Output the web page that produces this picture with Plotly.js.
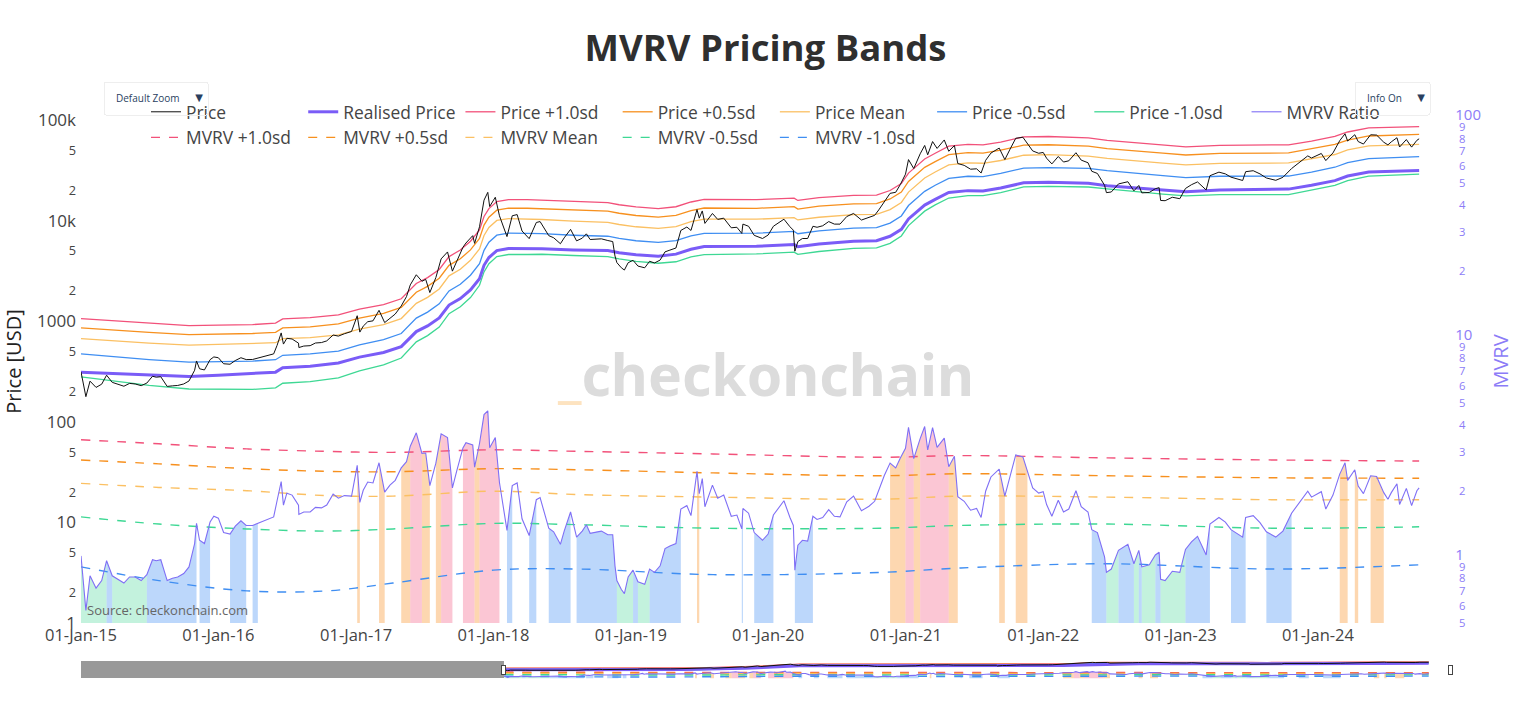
<!DOCTYPE html>
<html>
<head>
<meta charset="utf-8">
<script src="https://cdn.plot.ly/plotly-3.0.1.min.js"></script>
<style>html,body{margin:0;padding:0;background:#fff}#chart{width:1520px;height:726px}</style>
</head>
<body>
<div id="chart"></div>
<script>
// ---- Price / MVRV samples ----
const priceDates = [
 '2015-01-01','2015-01-14','2015-01-25','2015-02-10','2015-02-25','2015-03-10','2015-03-25','2015-04-10','2015-04-25','2015-05-10','2015-05-25','2015-06-10','2015-06-25','2015-07-10','2015-07-20','2015-08-01','2015-08-18','2015-09-01','2015-09-15','2015-10-01','2015-10-15','2015-10-30','2015-11-04','2015-11-12','2015-11-25','2015-12-10','2015-12-20',
 '2016-01-01','2016-01-15','2016-02-01','2016-02-15','2016-03-01','2016-03-15','2016-04-01','2016-04-15','2016-05-01','2016-05-15','2016-05-27','2016-06-05','2016-06-16','2016-06-22','2016-07-01','2016-07-15','2016-08-01','2016-08-02','2016-08-15','2016-09-01','2016-09-15','2016-10-01','2016-10-15','2016-11-01','2016-11-15','2016-12-01','2016-12-20',
 '2017-01-04','2017-01-11','2017-01-20','2017-02-01','2017-02-15','2017-03-03','2017-03-18','2017-04-01','2017-04-15','2017-05-01','2017-05-15','2017-05-25','2017-06-10','2017-06-25','2017-07-05','2017-07-16','2017-08-01','2017-08-15','2017-09-01','2017-09-14','2017-09-25','2017-10-12','2017-10-20','2017-11-07','2017-11-12','2017-11-25','2017-12-07','2017-12-17','2017-12-22',
 '2018-01-06','2018-01-17','2018-02-06','2018-02-20','2018-03-05','2018-03-18','2018-04-06','2018-04-25','2018-05-05','2018-05-28','2018-06-10','2018-06-28','2018-07-08','2018-07-25','2018-08-10','2018-08-25','2018-09-05','2018-09-15','2018-10-01','2018-10-15','2018-11-01','2018-11-14','2018-11-20','2018-11-25','2018-12-07','2018-12-15','2018-12-25',
 '2019-01-07','2019-01-20','2019-02-07','2019-02-20','2019-03-05','2019-03-20','2019-04-02','2019-04-15','2019-05-01','2019-05-14','2019-05-30','2019-06-10','2019-06-26','2019-07-02','2019-07-10','2019-07-17','2019-08-06','2019-08-20','2019-09-05','2019-09-25','2019-10-10','2019-10-23','2019-10-26','2019-11-10','2019-11-25','2019-12-17',
 '2020-01-01','2020-01-15','2020-02-12','2020-02-28','2020-03-08','2020-03-12','2020-03-20','2020-04-01','2020-04-15','2020-04-29','2020-05-10','2020-05-25','2020-06-10','2020-06-25','2020-07-10','2020-07-28','2020-08-15','2020-09-05','2020-09-25','2020-10-10','2020-10-21','2020-11-05','2020-11-20','2020-12-05','2020-12-17','2020-12-31',
 '2021-01-08','2021-01-22','2021-02-08','2021-02-20','2021-02-28','2021-03-13','2021-03-25','2021-04-13','2021-04-25','2021-05-10','2021-05-19','2021-06-05','2021-06-22','2021-07-08','2021-07-20','2021-08-01','2021-08-15','2021-09-06','2021-09-21','2021-10-05','2021-10-20','2021-11-08','2021-11-20','2021-12-04','2021-12-20',
 '2022-01-01','2022-01-10','2022-01-24','2022-02-10','2022-02-24','2022-03-10','2022-03-29','2022-04-12','2022-04-30','2022-05-10','2022-05-25','2022-06-13','2022-06-18','2022-07-01','2022-07-20','2022-08-14','2022-08-30','2022-09-12','2022-09-20','2022-10-10','2022-10-26','2022-11-05','2022-11-09','2022-11-21','2022-12-10','2022-12-30',
 '2023-01-14','2023-01-30','2023-02-15','2023-03-10','2023-03-20','2023-04-13','2023-04-30','2023-05-15','2023-06-15','2023-06-23','2023-07-13','2023-07-31','2023-08-17','2023-09-11','2023-09-30','2023-10-23','2023-11-10','2023-12-05','2023-12-15',
 '2024-01-10','2024-01-22','2024-02-10','2024-02-28','2024-03-13','2024-03-20','2024-04-08','2024-04-17','2024-05-01','2024-05-20','2024-06-05','2024-06-24','2024-07-05','2024-07-14','2024-07-29','2024-08-05','2024-08-23','2024-09-06','2024-09-20','2024-09-26'
];
const price = [
 314,178,254,220,237,291,247,236,226,241,238,229,243,284,278,281,225,228,230,238,255,326,403,337,328,415,442,
 434,378,374,407,434,416,417,430,448,457,474,575,766,593,677,666,606,548,567,572,608,614,638,730,712,752,792,
 1135,780,895,990,1010,1285,970,1080,1180,1420,1760,2300,2900,2500,2610,1930,2720,4170,4890,3150,3910,5440,6000,7100,5950,8700,16000,19140,13830,
 17100,11200,6950,11200,11500,7900,6630,9600,9800,7100,6770,5900,6750,8200,6300,6700,7400,6500,6600,6600,6350,6200,4460,3830,3400,3230,3820,
 4040,3540,3400,3950,3800,4060,4900,5100,5350,8000,8650,8000,12900,10600,12500,9400,11800,10300,10600,8500,8600,7470,9250,8800,7150,6650,
 7200,8800,10350,8700,8050,4970,6200,6650,6650,8800,8600,8900,9800,9250,9240,11000,11800,10150,10700,11300,12800,15600,18700,19150,22800,29000,
 40500,33000,46200,56000,45200,61200,52300,63500,49000,55900,37000,35500,32500,32800,29800,39800,47000,52700,40500,51500,66000,67600,59000,49400,46800,
 47700,41800,36700,43500,38300,39400,47400,40000,37700,31000,29500,22500,19000,19300,23200,24400,19800,22400,18900,19100,20800,21300,15900,15800,17100,16550,
 20900,22800,24300,20200,28000,30400,29200,27100,25100,30700,31400,29200,26600,25200,27000,33000,37300,44100,42000,
 46600,39600,47200,62500,73100,61900,71600,61200,57800,71500,71000,60300,56700,60800,66800,54000,64100,53900,63000,65200
];
const mvrvRatio = [
 1.01,0.57,0.82,0.72,0.78,0.96,0.82,0.79,0.76,0.81,0.81,0.78,0.83,0.97,0.96,0.97,0.78,0.80,0.81,0.84,0.90,1.15,1.42,1.19,1.15,1.44,1.53,
 1.50,1.29,1.27,1.38,1.46,1.39,1.39,1.42,1.46,1.48,1.52,1.80,2.20,1.72,1.95,1.91,1.72,1.56,1.60,1.60,1.68,1.67,1.72,1.93,1.85,1.90,1.89,
 2.61,1.77,2.01,2.19,2.17,2.68,1.97,2.12,2.23,2.54,2.71,3.19,3.67,2.96,2.97,2.11,2.67,3.63,3.49,2.06,2.44,3.13,3.31,3.23,2.56,3.28,4.44,4.62,3.14,
 3.49,2.18,1.32,2.11,2.17,1.49,1.25,1.82,1.86,1.35,1.30,1.14,1.31,1.60,1.23,1.31,1.40,1.28,1.30,1.31,1.26,1.26,0.91,0.78,0.71,0.68,0.81,
 0.87,0.77,0.75,0.88,0.85,0.91,1.09,1.12,1.15,1.65,1.71,1.54,2.45,1.94,2.27,1.69,2.12,1.85,1.91,1.53,1.55,1.34,1.66,1.58,1.29,1.19,
 1.27,1.55,1.80,1.51,1.39,0.87,1.13,1.19,1.18,1.53,1.48,1.51,1.64,1.53,1.52,1.78,1.89,1.62,1.70,1.79,2.01,2.35,2.67,2.54,2.81,3.12,
 3.89,2.80,3.45,3.92,3.07,3.87,3.15,3.47,2.57,2.87,1.88,1.79,1.63,1.66,1.51,1.99,2.31,2.51,1.89,2.35,2.91,2.85,2.47,2.06,1.95,
 1.98,1.73,1.53,1.81,1.60,1.65,2.00,1.69,1.60,1.33,1.29,1.00,0.85,0.88,1.07,1.14,0.93,1.07,0.90,0.92,1.02,1.05,0.79,0.78,0.86,0.85,
 1.08,1.17,1.24,1.02,1.41,1.51,1.44,1.33,1.23,1.51,1.54,1.43,1.30,1.23,1.31,1.58,1.75,1.99,1.87,
 1.98,1.65,1.91,2.38,2.68,2.23,2.49,2.10,1.94,2.34,2.32,1.96,1.83,1.96,2.15,1.73,2.05,1.71,2.00,2.06
];
// MVRV zone per sample: r > +1sd, o > +0.5sd, n inside, b < -0.5sd, g < -1sd
const mvrvZone = [
 'gggggbggggggbbbbbbbbbbnbbnn',
 'nnbbbnbnnnnnnnnnnnnnnnnnnnn',
 'onnnnonnnoorroonorrnnrrrorrrr',
 'rnbnnnbnnbbbbnbbbbbbbbbgggg',
 'bggbbbbbbnnnonnnnnnnnbnnbb',
 'bnnnnbbbbnnnnnnnnnnnnnooor',
 'rorrrrrroonnnnnnnonnoonnn',
 'nnnnnnnnnbbbggbbgbggbbgggg',
 'bbbbnnnbbnnnbbbnnnn',
 'nnnoononnoonnnnnnnnn'
].join('');

// ---- Realised price and price bands (knots) ----
const rpDates = ['2015-01-01','2015-04-01','2015-07-01','2015-10-15','2016-01-01','2016-04-01','2016-06-01','2016-06-20','2016-09-01','2016-11-15',
 '2017-01-10','2017-03-15','2017-05-01','2017-06-10','2017-07-10','2017-08-10','2017-09-05','2017-10-05','2017-11-01','2017-11-25','2017-12-07','2017-12-20',
 '2018-01-10','2018-02-10','2018-04-01','2018-05-10','2018-08-01','2018-11-01','2018-12-01','2019-01-15','2019-03-15','2019-05-01','2019-06-10','2019-07-15',
 '2019-12-01','2020-03-10','2020-03-20','2020-05-15','2020-08-15','2020-10-15','2020-11-20','2020-12-20','2021-01-08','2021-02-20','2021-03-20','2021-04-25',
 '2021-06-15','2021-07-25','2021-09-10','2021-11-10','2022-01-15','2022-05-01','2022-06-20','2022-08-15','2022-11-15','2023-01-15','2023-04-15','2023-10-15',
 '2023-12-15','2024-02-15','2024-03-20','2024-05-15','2024-09-26'];
const realisedPrice = [311,300,292,282,290,300,312,345,358,385,440,490,560,790,900,1080,1450,1680,2050,2650,3600,4300,
 5050,5300,5300,5270,5120,5040,4800,4580,4440,4650,5200,5550,5560,5800,5500,5880,6250,6320,7000,8200,10400,14300,16300,19100,
 19900,19700,21100,23800,24100,23500,22300,21400,20200,19400,20200,20600,22500,25000,27800,30500,31600];
const priceP10 = [1060,1005,961,905,916,927,958,1056,1088,1159,1320,1465,1674,2378,2718,3272,4394,5107,6253,8109,11016,13201,
 15504,16218,16165,16021,15462,15120,14400,13694,13187,13764,15340,16317,16180,16762,15895,16934,17875,17949,19950,23370,29744,41041,46781,55008,
 57511,56736,60557,68068,68685,66505,62886,60134,56560,54126,56156,56856,61875,68750,76172,83570,86268];
const priceP05 = [858,813,777,736,742,756,777,859,881,943,1074,1196,1372,1943,2223,2678,3596,4183,5125,6652,9036,10836,
 12726,13303,13303,13175,12749,12449,11856,11267,10834,11300,12584,13376,13288,13804,13035,13936,14688,14789,16450,19270,24544,33891,38631,45458,
 47561,46886,50218,56406,56876,55225,52182,49862,46864,45008,46662,47174,51525,57250,63384,69540,72048];
const priceMean = [672,636,607,578,586,597,612,673,687,732,836,926,1064,1509,1728,2095,2828,3293,4039,5247,7128,8557,
 10050,10494,10388,10277,9882,9626,9168,8702,8392,8742,9776,10379,10342,10730,10175,10819,11500,11566,12880,15170,19240,26598,30481,35908,
 37611,37233,39668,44744,45308,43945,41701,39804,37370,35890,37168,37492,40950,45500,50596,55510,57512];
const priceM05 = [473,441,415,392,394,402,415,459,473,504,581,657,756,1074,1233,1490,2001,2335,2870,3737,5076,6106,
 7171,7526,7473,7431,7168,7006,6672,6320,6083,6324,7072,7493,7506,7830,7425,7938,8438,8532,9450,11152,14144,19591,22494,26358,
 27661,27383,29540,33320,33740,33135,31443,29960,28078,26772,27674,27810,30375,34000,37808,41480,43292];
const priceM10 = [280,255,231,212,212,210,218,242,251,273,321,368,431,624,720,875,1189,1394,1722,2279,3096,3741,
 4394,4611,4611,4638,4506,4385,4176,3939,3774,3906,4368,4607,4670,4872,4620,4939,5313,5372,5950,7052,8944,12441,14344,16808,
 17711,17730,18990,21658,21931,21620,20739,19688,18382,17654,18180,18128,20025,22500,25020,27755,29072];

// ---- MVRV bands ----
const bandDates = ['2015-01-01','2015-07-27','2016-03-17','2016-10-16','2017-04-09','2018-01-01','2018-08-18','2019-08-08','2020-10-27','2021-05-27','2022-06-21','2023-09-05','2024-09-26'];
const mvrvP10 = [3.41,3.27,3.10,3.02,2.99,3.07,3.02,2.94,2.84,2.89,2.82,2.76,2.73];
const mvrvP05 = [2.76,2.65,2.52,2.45,2.44,2.52,2.49,2.41,2.34,2.39,2.34,2.29,2.28];
const mvrvMean = [2.16,2.07,2.00,1.90,1.89,1.99,1.92,1.87,1.83,1.89,1.87,1.82,1.82];
const mvrvM05 = [1.52,1.41,1.34,1.31,1.34,1.42,1.40,1.35,1.35,1.39,1.41,1.35,1.37];
const mvrvM10 = [0.90,0.78,0.70,0.70,0.76,0.87,0.88,0.83,0.85,0.89,0.93,0.88,0.92];

// ---- styling ----
const C = {p10:'#f2517a', p05:'#f7901e', mean:'#fbc063', m05:'#3f8ef2', m10:'#3ed894', rp:'#7a5cf7', mvrv:'#7f6ff5', axis2:'#8c7cf7'};
const zoneFill = {r:'rgba(247,129,160,0.45)', o:'rgba(250,167,80,0.45)', b:'rgba(96,160,245,0.42)', g:'rgba(88,220,160,0.36)'};

const traces = [];
// zone fills under the MVRV ratio: one filled trace per contiguous run of the same zone
(function () {
  let i = 0;
  const n = priceDates.length;
  while (i < n) {
    const z = mvrvZone[i];
    let k = i;
    while (k + 1 < n && mvrvZone[k + 1] === z) k++;
    if (z !== 'n') {
      const end = Math.min(k + 2, n);
      traces.push({
        x: priceDates.slice(i, end), y: mvrvRatio.slice(i, end),
        yaxis: 'y2', type: 'scatter', mode: 'lines', line: {width: 0, color: zoneFill[z]},
        fill: 'tozeroy', fillcolor: zoneFill[z], showlegend: false, hoverinfo: 'skip'
      });
    }
    i = k + 1;
  }
})();
function line(name, x, y, color, width, axis, rank, dash) {
  return {x: x, y: y, name: name, type: 'scatter', mode: 'lines', yaxis: axis,
    line: {color: color, width: width, dash: dash || 'solid', shape: dash ? 'spline' : 'linear'}, legendrank: rank};
}
traces.push(line('Price +1.0sd', rpDates, priceP10, C.p10, 1.3, 'y', 3));
traces.push(line('Price +0.5sd', rpDates, priceP05, C.p05, 1.3, 'y', 4));
traces.push(line('Price Mean', rpDates, priceMean, C.mean, 1.3, 'y', 5));
traces.push(line('Price -0.5sd', rpDates, priceM05, C.m05, 1.3, 'y', 6));
traces.push(line('Price -1.0sd', rpDates, priceM10, C.m10, 1.3, 'y', 7));
traces.push(line('Realised Price', rpDates, realisedPrice, C.rp, 3, 'y', 2));
traces.push(line('MVRV +1.0sd', bandDates, mvrvP10, C.p10, 1.4, 'y2', 9, 'dash'));
traces.push(line('MVRV +0.5sd', bandDates, mvrvP05, C.p05, 1.4, 'y2', 10, 'dash'));
traces.push(line('MVRV Mean', bandDates, mvrvMean, C.mean, 1.4, 'y2', 11, 'dash'));
traces.push(line('MVRV -0.5sd', bandDates, mvrvM05, C.m10, 1.4, 'y2', 12, 'dash'));
traces.push(line('MVRV -1.0sd', bandDates, mvrvM10, C.m05, 1.4, 'y2', 13, 'dash'));
traces.push(line('MVRV Ratio', priceDates, mvrvRatio, C.mvrv, 1.1, 'y2', 8));
traces.push(line('Price', priceDates, price, '#111111', 1, 'y', 1));

const font = '"Open Sans", "DejaVu Sans", sans-serif';
const layout = {
  width: 1520, height: 726,
  paper_bgcolor: '#ffffff', plot_bgcolor: '#ffffff',
  font: {family: font, color: '#444', size: 14},
  title: {text: '<b>MVRV Pricing Bands</b>', xref: 'paper', x: 0.5, xanchor: 'center', y: 0.934, yanchor: 'middle',
          font: {family: font, size: 36.5, color: '#2f2f2f'}},
  margin: {l: 81, r: 70, t: 100, b: 48, pad: 0},
  showlegend: true,
  legend: {orientation: 'h', x: 0.5, xanchor: 'center', y: 1.0115, yanchor: 'top',
           font: {family: font, size: 17.4, color: '#444'}, bgcolor: 'rgba(0,0,0,0)', traceorder: 'normal'},
  xaxis: {type: 'date', range: ['2015-01-01', '2024-12-17'], tickformat: '%d-%b-%y', dtick: 'M12', tick0: '2015-01-01',
          showgrid: false, zeroline: false, showline: false, ticks: '', tickfont: {size: 16.5, color: '#444'},
          rangeslider: {visible: true, range: ['2010-07-18', '2024-12-17'], thickness: 0.03, bgcolor: '#ffffff', borderwidth: 0}},
  yaxis: {type: 'log', range: [0, 5.2], dtick: 'D2', showgrid: false, zeroline: false, showline: false, ticks: '',
          ticklabelstandoff: 4,
          tickfont: {size: 17, color: '#444'}, title: {text: 'Price [USD]', standoff: 15, font: {size: 20, color: '#222'}}},
  yaxis2: {type: 'log', overlaying: 'y', side: 'right', range: [Math.log10(0.5), Math.log10(120)], dtick: 'D1',
           showgrid: false, zeroline: false, showline: false, ticks: '', ticklabelstandoff: 8,
           tickfont: {size: 15, color: C.axis2}, title: {text: 'MVRV', standoff: 14, font: {size: 20, color: C.axis2}}},
  updatemenus: [
    {type: 'dropdown', active: 0, showactive: true, buttons: [{label: 'Default Zoom', method: 'skip', args: []}],
     x: 0.016, xanchor: 'left', y: 1.036, yanchor: 'top', bgcolor: 'rgba(255,255,255,0)', bordercolor: '#eeeeee', borderwidth: 1,
     font: {size: 10, color: '#2a3f5f'}, pad: {t: 0, r: 0, b: 0, l: 0}},
    {type: 'dropdown', active: 0, showactive: true, buttons: [{label: 'Info On', method: 'skip', args: []}],
     x: 0.985, xanchor: 'right', y: 1.036, yanchor: 'top', bgcolor: 'rgba(255,255,255,0)', bordercolor: '#eeeeee', borderwidth: 1,
     font: {size: 10, color: '#2a3f5f'}, pad: {t: 0, r: 0, b: 0, l: 0}}
  ],
  annotations: [
    {text: '<span style="color:#fde3c0">_</span>checkonchain', xref: 'paper', yref: 'paper', x: 0.5, y: 0.477,
     showarrow: false, font: {family: '"Noto Sans", sans-serif', size: 57, color: '#dcdcdc', weight: 'bold'}},
    {text: 'Source: checkonchain.com', xref: 'paper', yref: 'paper', x: 0.003, y: 0.003, xanchor: 'left', yanchor: 'bottom',
     showarrow: false, font: {size: 13, color: '#666'}}
  ]
};
Plotly.newPlot('chart', traces, layout, {displayModeBar: false, responsive: false});
</script>
</body>
</html>
